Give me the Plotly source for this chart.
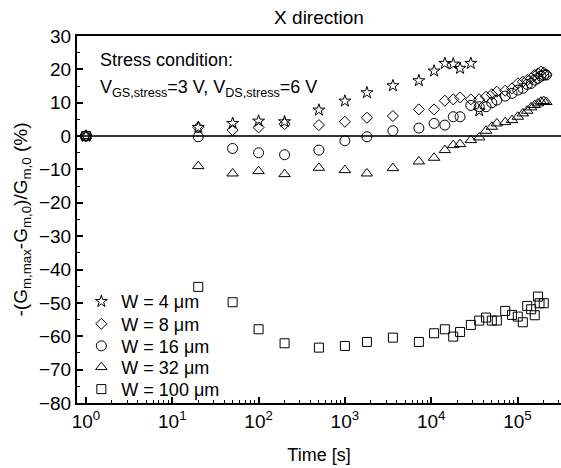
import plotly.graph_objects as go

# ---- data ----
t_w4 = [1, 20, 50, 100, 200, 500, 1000, 1800, 3600, 7200, 10800, 14400, 18000, 21600, 28800, 36000]
v_w4 = [0, 2.6, 3.8, 4.5, 4.3, 7.8, 10.5, 13.0, 15.1, 16.6, 19.5, 21.8, 21.6, 20.3, 21.8, 7.6]

t_late = [1, 20, 50, 100, 200, 500, 1000, 1800, 3600, 7200, 10800, 14400, 18000, 21600,
          28800, 36000, 43200, 50400, 57600, 72000, 86400, 100800, 115200, 129600,
          144000, 158400, 172800, 187200, 201600, 216000]
v_w8 = [0, 2.6, 1.8, 2.6, 3.6, 3.3, 4.3, 5.5, 6.0, 8.0, 8.0, 10.6, 11.0, 11.6, 11.0, 11.0,
        11.8, 12.5, 13.3, 13.6, 14.3, 15.8, 16.3, 16.8, 17.3, 18.3, 18.8, 19.3, 19.0, 18.5]
v_w16 = [0, -0.2, -3.7, -5.0, -5.6, -4.2, -1.4, -0.2, 1.6, 2.4, 3.8, 3.3, 5.8, 5.8, 9.2, 8.8,
         8.8, 10.0, 10.8, 12.0, 12.8, 13.8, 14.3, 15.5, 15.8, 16.8, 17.3, 18.0, 18.3, 18.3]
v_w32 = [0, -9.0, -11.2, -10.5, -11.4, -9.5, -10.2, -11.2, -9.6, -7.6, -6.5, -4.2, -2.7, -2.4,
         -1.2, -0.4, 1.6, 2.8, 3.8, 4.2, 4.8, 5.8, 6.8, 7.6, 8.6, 9.3, 9.8, 10.3, 10.5, 10.2]

t_w100 = [1, 20, 50, 100, 200, 500, 1000, 1800, 3600, 7200, 10800, 14400, 18000, 21600,
          28800, 36000, 43200, 50400, 57600, 72000, 86400, 100800, 115200, 129600,
          144000, 158400, 172800, 180000, 201600]
v_w100 = [0, -45.2, -49.8, -57.9, -62.1, -63.4, -62.9, -61.7, -60.4, -61.7, -59.1, -57.9,
          -60.1, -58.7, -56.6, -55.3, -54.4, -55.3, -55.3, -52.4, -53.6, -54.1, -55.8,
          -50.9, -51.9, -53.7, -48.1, -50.1, -50.1]

series_names = ["W = 4 μm", "W = 8 μm", "W = 16 μm", "W = 32 μm", "W = 100 μm"]
series_t = [t_w4, t_late, t_late, t_late, t_w100]
series_v = [v_w4, v_w8, v_w16, v_w32, v_w100]
symbols = ["star-open", "diamond-open", "circle-open", "triangle-up-open", "square-open"]
sizes = [9, 8.5, 10, 10, 9]

decades = [1, 10, 100, 1000, 10000, 100000]
decade_text = ["10<sup>%d</sup>" % i for i in range(6)]
minor_vals = [k * d for d in decades for k in range(2, 10)]

FONT = "Liberation Sans, Arial, sans-serif"

# legend row centres (paper y)
legend_rows = [0.276, 0.215, 0.155, 0.097, 0.037]

fig = go.Figure()
legend_layout = {}
for i, (name, t, v, sym, sz) in enumerate(zip(series_names, series_t, series_v, symbols, sizes)):
    lg = "legend" if i == 0 else "legend%d" % (i + 1)
    fig.add_trace(go.Scatter(
        x=t, y=v, mode="markers", name=name, legend=lg,
        marker=dict(symbol=sym, size=sz, color="black", line=dict(width=1, color="black")),
    ))
    legend_layout[lg] = dict(
        x=0.009, y=legend_rows[i], xanchor="left", yanchor="middle",
        bgcolor="rgba(0,0,0,0)", font=dict(size=18, family=FONT, color="black"),
        itemsizing="trace",
    )

fig.update_layout(
    width=561, height=468,
    margin=dict(l=77, r=0, t=36, b=65),
    paper_bgcolor="white", plot_bgcolor="white",
    font=dict(family=FONT, size=18, color="black"),
    title=dict(text="X direction", x=0.5, xref="paper", y=0.963, yanchor="middle",
               font=dict(size=19)),
    showlegend=True,
    xaxis=dict(
        type="log", range=[-0.104, 5.504],
        tickvals=decades, ticktext=decade_text,
        ticks="inside", ticklen=6, tickwidth=1.5, tickcolor="black",
        minor=dict(tickvals=minor_vals, ticks="inside", ticklen=3, tickwidth=1,
                   tickcolor="black", showgrid=False),
        showline=True, linecolor="black", linewidth=2, mirror=True,
        showgrid=False, zeroline=False,
        tickfont=dict(size=19),
        title=dict(text="Time [s]", font=dict(size=18), standoff=18),
    ),
    yaxis=dict(
        range=[-80, 30], tickmode="linear", tick0=-80, dtick=10,
        ticks="inside", ticklen=6, tickwidth=1.5, tickcolor="black",
        minor=dict(dtick=5, ticks="inside", ticklen=3, tickwidth=1, tickcolor="black",
                   showgrid=False),
        showline=True, linecolor="black", linewidth=2, mirror=False,
        showgrid=False,
        zeroline=True, zerolinecolor="#333333", zerolinewidth=2,
        tickfont=dict(size=19),
        title=dict(text="-(G<sub>m,max</sub>-G<sub>m,0</sub>)/G<sub>m,0</sub> (%)",
                   font=dict(size=19), standoff=6),
    ),
    **legend_layout,
)

fig.add_annotation(
    x=0.043, y=0.935, xref="paper", yref="paper", xanchor="left", yanchor="middle",
    text="Stress condition:", showarrow=False, font=dict(size=18),
)
fig.add_annotation(
    x=0.043, y=0.857, xref="paper", yref="paper", xanchor="left", yanchor="middle",
    text="V<sub>GS,stress</sub>=3 V, V<sub>DS,stress</sub>=6 V", showarrow=False,
    font=dict(size=18),
)

fig.write_html("out.html")
